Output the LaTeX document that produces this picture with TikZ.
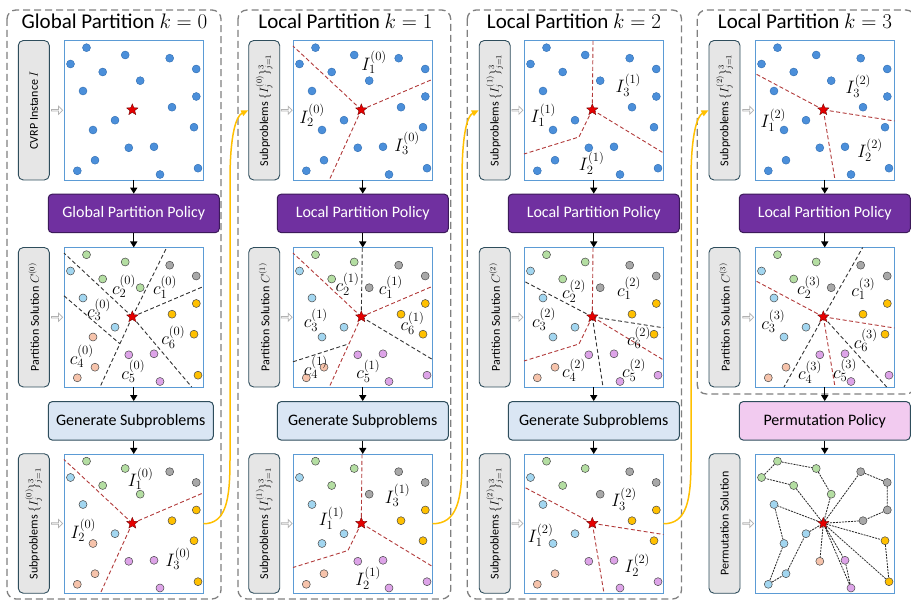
\RequirePackage{fix-cm}
\documentclass[tikz,border=0pt]{standalone}
\usepackage{fontspec}
\setmainfont{Carlito}
\usetikzlibrary{shapes.geometric,shapes.arrows,arrows.meta}
\definecolor{dotblue}{HTML}{4B8FDA}
\definecolor{dotblueD}{HTML}{2D6BB0}
\definecolor{cG}{HTML}{B4DEA2}
\definecolor{cB}{HTML}{A2D6F0}
\definecolor{cGr}{HTML}{A8A8A8}
\definecolor{cO}{HTML}{FFC000}
\definecolor{cS}{HTML}{F6C3AB}
\definecolor{cP}{HTML}{DDA3E8}
\definecolor{dotedge}{HTML}{4A4A4A}
\definecolor{sqblue}{HTML}{5B9BD5}
\definecolor{redline}{HTML}{B23A3A}
\definecolor{purp}{HTML}{7030A0}
\definecolor{purpD}{HTML}{3C1A5A}
\definecolor{genfill}{HTML}{DAE6F4}
\definecolor{pinkfill}{HTML}{F2CBF0}
\definecolor{boxedge}{HTML}{2E4D5C}
\definecolor{lblfill}{HTML}{E6E6E6}
\definecolor{ylw}{HTML}{FFC000}
\tikzset{
 sqbox/.style={draw=sqblue, line width=0.9pt, fill=white, minimum width=139.5pt, minimum height=139.5pt, inner sep=0pt, outer sep=0pt, anchor=north west},
 bdot/.style={fill=dotblue, draw=dotblueD, line width=0.4pt},
 cdot/.style={draw=dotedge, line width=0.5pt},
 stnode/.style={star, star points=5, star point ratio=2.3, minimum size=12pt, inner sep=0pt, fill=red!90!black, draw=red!40!black, line width=0.3pt},
 rdash/.style={draw=redline, line width=0.9pt, dash pattern=on 4pt off 2.5pt},
 kdash/.style={draw=black!80, line width=0.9pt, dash pattern=on 4pt off 2.5pt},
 mlab/.style={inner sep=0pt, font=\fontsize{18}{18}\selectfont},
 lbox/.style={draw=boxedge, fill=lblfill, rounded corners=5pt, line width=0.9pt, minimum width=139.5pt, minimum height=31pt, rotate=90, inner sep=0pt, font=\fontsize{12}{12}\selectfont},
 harrow/.style={single arrow, draw=black!30, line width=0.7pt, minimum height=11pt, minimum width=8pt, single arrow head extend=1.5pt, inner sep=0pt},
 polbox/.style={draw=purpD, fill=purp, text=white, rounded corners=4pt, line width=1pt, minimum width=171pt, minimum height=38.5pt, inner sep=0pt, font=\fontsize{16}{16}\selectfont},
 genbox/.style={polbox, draw=boxedge, fill=genfill, text=black},
 perbox/.style={polbox, draw=boxedge, fill=pinkfill, text=black},
 colbox/.style={draw=black!50, line width=1.3pt, dash pattern=on 7pt off 4pt, rounded corners=9pt},
 title/.style={font=\fontsize{21}{21}\selectfont, inner sep=0pt},
 blk/.style={draw=black, line width=1.4pt, -{Triangle[length=6pt,width=7pt]}},
 ycurve/.style={draw=ylw, line width=1.5pt, -{Triangle[length=7pt,width=6pt]}},
 route/.style={draw=black!85, line width=0.8pt, dash pattern=on 2pt off 1pt},
 pdot/.style={circle, inner sep=0pt, minimum size=8pt, draw=dotedge, line width=0.5pt},
}
\def\ptsPlain{22.5/7.2,6.5/23.5,61.2/14.5,105.7/17.7,132.2/28.5,38.7/31.5,76.2/40.2,19/50.5,132.3/56,108/66.7,51/79.7,29/89.5,130/86.7,64.8/107.3,90/106.3,31/119.7,13.3/130.3,96/134,134/127.7}
\def\ptsA{22.5/7.2/cG,6.5/23.5/cB,61.2/14.5/cG,105.7/17.7/cGr,132.2/28.5/cGr,38.7/31.5/cG,76.2/40.2/cG,19/50.5/cB,132.3/56/cO,108/66.7/cO,51/79.7/cB,29/89.5/cS,130/86.7/cO,64.8/107.3/cP,90/106.3/cP,31/119.7/cS,13.3/130.3/cS,96/134/cP,134/127.7/cO}
\def\ptsB{22.5/7.2/cG,6.5/23.5/cB,61.2/14.5/cG,105.7/17.7/cGr,132.2/28.5/cGr,38.7/31.5/cG,76.2/40.2/cGr,19/50.5/cB,132.3/56/cO,108/66.7/cO,51/79.7/cB,29/89.5/cB,130/86.7/cO,64.8/107.3/cP,90/106.3/cP,31/119.7/cS,13.3/130.3/cS,96/134/cP,134/127.7/cP}
\def\ptsC{1/22.5/7.2/cG,2/6.5/23.5/cG,3/61.2/14.5/cG,4/105.7/17.7/cGr,5/132.2/28.5/cGr,6/38.7/31.5/cG,7/76.2/40.2/cG,8/19/50.5/cB,9/132.3/56/cGr,10/108/66.7/cGr,11/51/79.7/cB,12/29/89.5/cB,13/130/86.7/cO,14/64.8/107.3/cS,15/90/106.3/cP,16/31/119.7/cB,17/13.3/130.3/cB,18/96/134/cP,19/134/127.7/cO}
\newcommand\plaindots{\foreach \px/\py in \ptsPlain {\path[bdot] (\px,\py) circle (4);}}
\newcommand\coldots[1]{\foreach \px/\py/\pc in #1 {\path[cdot, fill=\pc] (\px,\py) circle (4);}}
\begin{document}
\begin{tikzpicture}[x=1pt,y=-1pt]
\fill[white] (0,0) rectangle (911,601);
\useasboundingbox (0,0) rectangle (911,601);
% column frames
\draw[colbox] (7,10) rectangle (221,599);
\draw[colbox] (238,10) rectangle (450.7,599);
\draw[colbox] (467.3,10) rectangle (681.5,599);
\draw[colbox] (697.3,10) rectangle (915,394);
% titles
\node[title] (t1) at (114.5,21) {Global Partition $k=0$};
\node[title] (t2) at (345.5,21) {Local Partition $k=1$};
\node[title] (t3) at (574,21) {Local Partition $k=2$};
\node[title] (t4) at (805,21) {Local Partition $k=3$};
% side labels
\node[lbox] (lb11) at (33.8,110.25) {CVRP Instance $I$};
\node[lbox] (lb12) at (33.8,317.25) {Partition Solution $C^{(0)}$};
\node[lbox] (lb13) at (33.8,523.5) {Subproblems $\{I_j^{(0)}\}_{j=1}^3$};
\node[lbox] (lb21) at (264.2,110.25) {Subproblems $\{I_j^{(0)}\}_{j=1}^3$};
\node[lbox] (lb22) at (264.2,317.25) {Partition Solution $C^{(1)}$};
\node[lbox] (lb23) at (264.2,523.5) {Subproblems $\{I_j^{(1)}\}_{j=1}^3$};
\node[lbox] (lb31) at (494.7,110.25) {Subproblems $\{I_j^{(1)}\}_{j=1}^3$};
\node[lbox] (lb32) at (494.7,317.25) {Partition Solution $C^{(2)}$};
\node[lbox] (lb33) at (494.7,523.5) {Subproblems $\{I_j^{(2)}\}_{j=1}^3$};
\node[lbox] (lb41) at (724.5,110.25) {Subproblems $\{I_j^{(2)}\}_{j=1}^3$};
\node[lbox] (lb42) at (724.5,317.25) {Partition Solution $C^{(3)}$};
\node[lbox] (lb43) at (724.5,523.5) {Permutation Solution};
% hollow arrows
\foreach \hx/\cc in {56.7/1,286.3/2,517/3,747.8/4}{
  \node[harrow] (ha\cc1) at (\hx,110.25) {};
  \node[harrow] (ha\cc2) at (\hx,317.25) {};
  \node[harrow] (ha\cc3) at (\hx,523.5) {};
}
% policy / generate boxes
\node[polbox] (pol1) at (133.75,213.4) {Global Partition Policy};
\node[polbox] (pol2) at (362.75,213.4) {Local Partition Policy};
\node[polbox] (pol3) at (593.75,213.4) {Local Partition Policy};
\node[polbox] (pol4) at (824.75,213.4) {Local Partition Policy};
\node[genbox, minimum width=165pt] (gen1) at (130.8,420.85) {Generate Subproblems};
\node[genbox] (gen2) at (362.75,420.85) {Generate Subproblems};
\node[genbox] (gen3) at (593.75,420.85) {Generate Subproblems};
\node[perbox] (gen4) at (824.75,420.85) {Permutation Policy};
% ---------- squares ----------
\node[sqbox] (sq11) at (64,40.5) {};
\node[sqbox] (sq21) at (293,40.5) {};
\node[sqbox] (sq31) at (524,40.5) {};
\node[sqbox] (sq41) at (755,40.5) {};
\node[sqbox] (sq12) at (64,247.5) {};
\node[sqbox] (sq22) at (293,247.5) {};
\node[sqbox] (sq32) at (524,247.5) {};
\node[sqbox] (sq42) at (755,247.5) {};
\node[sqbox] (sq13) at (64,454) {};
\node[sqbox] (sq23) at (293,454) {};
\node[sqbox] (sq33) at (524,454) {};
\node[sqbox] (sq43) at (755,454) {};
% panel 1,1
\begin{scope}[shift={(64,40.5)}]
\plaindots
\node[stnode] (st11) at (68.3,69.3) {};
\end{scope}
% panel 2,1
\begin{scope}[shift={(293,40.5)}]
\coordinate (c21) at (68.3,69.3);
\draw[rdash] (c21) -- (0,5.5) (c21) -- (139.5,38.8) (c21) -- (36.3,139.5);
\plaindots
\node[stnode] (st21) at (c21) {};
\node[mlab] (i21a) at (81,22) {$I_1^{(0)}$};
\node[mlab] (i21b) at (19,75) {$I_2^{(0)}$};
\node[mlab] (i21c) at (114,103) {$I_3^{(0)}$};
\end{scope}
% panel 3,1
\begin{scope}[shift={(524,40.5)}]
\coordinate (c31) at (68.3,69.3);
\draw[rdash] (c31) -- (69,0) (c31) -- (55,96.5) -- (0,113.5) (c31) -- (139.5,112.5);
\plaindots
\node[stnode] (st31) at (c31) {};
\node[mlab] (i31a) at (19.3,74.5) {$I_1^{(1)}$};
\node[mlab] (i31b) at (67.7,122.8) {$I_2^{(1)}$};
\node[mlab] (i31c) at (104.3,44.5) {$I_3^{(1)}$};
\end{scope}
% panel 4,1
\begin{scope}[shift={(755,40.5)}]
\coordinate (c41) at (68.3,69.3);
\draw[rdash] (c41) -- (0,33) (c41) -- (139.5,80.5) (c41) -- (80,139.5);
\plaindots
\node[stnode] (st41) at (c41) {};
\node[mlab] (i41a) at (18.3,79.5) {$I_1^{(2)}$};
\node[mlab] (i41b) at (115,109.5) {$I_2^{(2)}$};
\node[mlab] (i41c) at (103.3,45.5) {$I_3^{(2)}$};
\end{scope}
% panel 1,2
\begin{scope}[shift={(64,247.5)}]
\coordinate (c12) at (68.3,69.3);
\draw[kdash] (c12) -- (0,5.6) (c12) -- (102.7,0) (c12) -- (139.5,39) (c12) -- (127.7,139.5) (c12) -- (36,139.5) (0,48.3) -- (55.9,96.3);
\coldots{\ptsA}
\node[stnode] (st12) at (c12) {};
\node[mlab] (k12a) at (101,39.6) {$c_1^{(0)}$};
\node[mlab] (k12b) at (60,39) {$c_2^{(0)}$};
\node[mlab] (k12c) at (35,62.3) {$c_3^{(0)}$};
\node[mlab] (k12d) at (17.7,109) {$c_4^{(0)}$};
\node[mlab] (k12e) at (69.3,124) {$c_5^{(0)}$};
\node[mlab] (k12f) at (109.3,89.6) {$c_6^{(0)}$};
\end{scope}
% panel 2,2
\begin{scope}[shift={(293,247.5)}]
\coordinate (c22) at (68.3,69.3);
\draw[kdash] (c22) -- (69.3,0) (c22) -- (139.5,112) (0,114.3) -- (56,96.3);
\draw[rdash] (c22) -- (0,5.5) (c22) -- (139.5,38.8) (c22) -- (36.3,139.5);
\coldots{\ptsB}
\node[stnode] (st22) at (c22) {};
\node[mlab] (k22a) at (97.8,39.4) {$c_1^{(1)}$};
\node[mlab] (k22b) at (54.5,36.7) {$c_2^{(1)}$};
\node[mlab] (k22c) at (22.8,72.7) {$c_3^{(1)}$};
\node[mlab] (k22d) at (22.8,120) {$c_4^{(1)}$};
\node[mlab] (k22e) at (75.2,123.7) {$c_5^{(1)}$};
\node[mlab] (k22f) at (119.5,75.4) {$c_6^{(1)}$};
\end{scope}
% panel 3,2
\begin{scope}[shift={(524,247.5)}]
\coordinate (c32) at (68.3,69.3);
\draw[rdash] (c32) -- (69,0) (c32) -- (55,96.5) -- (0,113.5) (c32) -- (139.5,112.5);
\draw[kdash] (c32) -- (0,33.7) (c32) -- (139.5,80.3) (c32) -- (79,139.5);
\coldots{\ptsB}
\node[stnode] (st32) at (c32) {};
\node[mlab] (k32a) at (105,41) {$c_1^{(2)}$};
\node[mlab] (k32b) at (50,43.7) {$c_2^{(2)}$};
\node[mlab] (k32c) at (20,72) {$c_3^{(2)}$};
\node[mlab] (k32d) at (50,122.7) {$c_4^{(2)}$};
\node[mlab] (k32e) at (110,122.7) {$c_5^{(2)}$};
\node[mlab] (k32f) at (115,90.3) {$c_6^{(2)}$};
\end{scope}
% panel 4,2
\begin{scope}[shift={(755,247.5)}]
\coordinate (c42) at (68.3,69.3);
\draw[rdash] (c42) -- (0,33) (c42) -- (139.5,80.5) (c42) -- (80,139.5);
\draw[kdash] (c42) -- (107.7,0) (c42) -- (29,139.5) (c42) -- (131.7,139.5);
\coldots{\ptsB}
\node[stnode] (st42) at (c42) {};
\node[mlab] (k42a) at (108.3,41.3) {$c_1^{(3)}$};
\node[mlab] (k42b) at (54,39.6) {$c_2^{(3)}$};
\node[mlab] (k42c) at (18.3,74) {$c_3^{(3)}$};
\node[mlab] (k42d) at (55,124.6) {$c_4^{(3)}$};
\node[mlab] (k42e) at (90,123) {$c_5^{(3)}$};
\node[mlab] (k42f) at (110.7,93) {$c_6^{(3)}$};
\end{scope}
% panel 1,3
\begin{scope}[shift={(64,454)}]
\coordinate (c13) at (68.3,69.3);
\draw[rdash] (c13) -- (0,5.5) (c13) -- (139.5,38.8) (c13) -- (36.3,139.5);
\coldots{\ptsA}
\node[stnode] (st13) at (c13) {};
\node[mlab] (i13a) at (76.7,24.8) {$I_1^{(0)}$};
\node[mlab] (i13b) at (19.3,76.5) {$I_2^{(0)}$};
\node[mlab] (i13c) at (114.3,104.8) {$I_3^{(0)}$};
\end{scope}
% panel 2,3
\begin{scope}[shift={(293,454)}]
\coordinate (c23) at (68.3,69.3);
\draw[rdash] (c23) -- (69,0) (c23) -- (55,96.5) -- (0,113.5) (c23) -- (139.5,112.5);
\coldots{\ptsB}
\node[stnode] (st23) at (c23) {};
\node[mlab] (i23a) at (38.5,64.3) {$I_1^{(1)}$};
\node[mlab] (i23b) at (75.2,124.3) {$I_2^{(1)}$};
\node[mlab] (i23c) at (104.5,41.7) {$I_3^{(1)}$};
\end{scope}
% panel 3,3
\begin{scope}[shift={(524,454)}]
\coordinate (c33) at (68.3,69.3);
\draw[rdash] (c33) -- (0,33) (c33) -- (139.5,80.5) (c33) -- (80,139.5);
\coldots{\ptsB}
\node[stnode] (st33) at (c33) {};
\node[mlab] (i33a) at (16.7,81) {$I_1^{(2)}$};
\node[mlab] (i33b) at (113.3,111) {$I_2^{(2)}$};
\node[mlab] (i33c) at (100,45) {$I_3^{(2)}$};
\end{scope}
% panel 4,3 (permutation)
\begin{scope}[shift={(755,454)}]
\foreach \qn/\px/\py/\pc in \ptsC {\node[pdot, fill=\pc] (q\qn) at (\px,\py) {};}
\node[stnode] (st43) at (68.3,69.3) {};
\draw[route] (st43) -- (q6) -- (q2) -- (q1) -- (q3) -- (q7) -- (st43);
\draw[route] (st43) -- (q4) -- (q5) -- (q9) -- (q10) -- (st43);
\draw[route] (st43) -- (q13) -- (q19) -- (st43);
\draw[route] (st43) -- (q8) -- (q12) -- (q17) -- (q16) -- (q11) -- (st43);
\draw[route] (st43) -- (q14);
\draw[route] (st43) -- (q15) -- (q18) -- (st43);
\end{scope}
% vertical flow arrows
\foreach \cc in {1,2,3,4}{
  \draw[blk] (sq\cc1.south) -- (sq\cc1.south |- pol\cc.north);
  \draw[blk] (pol\cc.south -| sq\cc2.north) -- (sq\cc2.north);
  \draw[blk] (sq\cc2.south) -- (sq\cc2.south |- gen\cc.north);
  \draw[blk] (gen\cc.south -| sq\cc3.north) -- (sq\cc3.north);
}
% yellow links
\draw[ycurve] (sq13.east) .. controls (226,523.75) and (230,500) .. (230,460) -- (230,180) .. controls (230,135) and (236,116) .. (lb21.north);
\draw[ycurve] (sq23.east) .. controls (457,523.75) and (462,500) .. (462,460) -- (462,180) .. controls (462,135) and (467,116) .. (lb31.north);
\draw[ycurve] (sq33.east) .. controls (687,523.75) and (691,500) .. (691,460) -- (691,180) .. controls (691,135) and (697,116) .. (lb41.north);
\end{tikzpicture}
\end{document}
